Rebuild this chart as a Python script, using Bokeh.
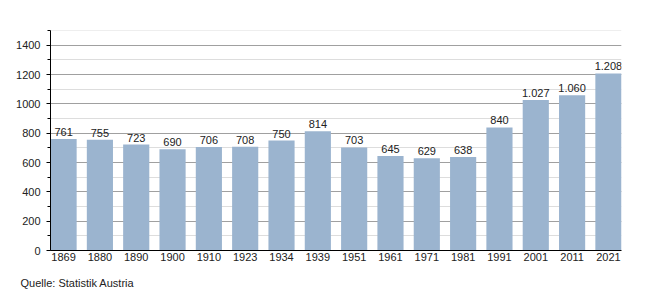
from bokeh.plotting import figure
from bokeh.models import ColumnDataSource, FixedTicker, Range1d, LabelSet, Title
from bokeh.embed import file_html
from bokeh.resources import INLINE
from bokeh.core.properties import value

years = ["1869", "1880", "1890", "1900", "1910", "1923", "1934", "1939",
         "1951", "1961", "1971", "1981", "1991", "2001", "2011", "2021"]
population = [761, 755, 723, 690, 706, 708, 750, 814,
              703, 645, 629, 638, 840, 1027, 1060, 1208]
y_ticks = [0, 200, 400, 600, 800, 1000, 1200, 1400]
source_note = "Quelle: Statistik Austria"


def fmt(v):
    return f"{v:,}".replace(",", ".")


xs = list(range(len(years)))
src = ColumnDataSource(dict(x=xs, y=population, lab=[fmt(v) for v in population]))

p = figure(width=650, height=300, output_backend="svg", toolbar_location=None,
           x_range=Range1d(-0.36, len(years) - 1 + 0.36), y_range=Range1d(0, 1501),
           min_border_left=50, min_border_right=29, min_border_top=30, min_border_bottom=0)
p.outline_line_color = None
p.background_fill_color = "white"
p.border_fill_color = "white"

p.vbar(x="x", top="y", width=0.72, source=src, fill_color="#9bb4cf", line_color=None)

labels = LabelSet(x="x", y="y", text="lab", source=src, text_align="center",
                  text_baseline="bottom", y_offset=3, text_font_size=value("11px"),
                  text_font=value("Liberation Sans"), text_color="#222222")
p.add_layout(labels)

# y axis
p.yaxis.ticker = FixedTicker(ticks=y_ticks, minor_ticks=list(range(0, 1501, 100)))
p.yaxis.major_tick_in = 0
p.yaxis.major_tick_out = 4
p.yaxis.minor_tick_in = 0
p.yaxis.minor_tick_out = 3
p.yaxis.axis_line_color = "black"
p.yaxis.major_tick_line_color = "black"
p.yaxis.minor_tick_line_color = "black"
p.yaxis.major_label_text_font = "Liberation Sans"
p.yaxis.major_label_text_font_size = "11px"
p.yaxis.major_label_text_color = "#222222"
p.yaxis.major_label_standoff = 6

# x axis
p.xaxis.ticker = FixedTicker(ticks=xs)
p.xaxis.major_label_overrides = {i: y for i, y in enumerate(years)}
p.xaxis.major_tick_line_color = None
p.xaxis.minor_tick_line_color = None
p.xaxis.major_tick_in = 0
p.xaxis.major_tick_out = 0
p.xaxis.minor_tick_in = 0
p.xaxis.minor_tick_out = 0
p.xaxis.axis_line_color = "black"
p.xaxis.major_label_text_font = "Liberation Sans"
p.xaxis.major_label_text_font_size = "11px"
p.xaxis.major_label_text_color = "#222222"
p.xaxis.major_label_standoff = 2

p.xgrid.grid_line_color = None
p.ygrid.grid_line_color = "#a0a0a0"
p.ygrid.minor_grid_line_color = "#dddddd"

note = Title(text=source_note, align="left", offset=-30, standoff=23,
             vertical_align="bottom",
             text_font="Liberation Sans", text_font_size="11px",
             text_font_style="normal", text_color="#222222")
p.add_layout(note, "below")

open("out.html", "w").write(file_html(p, INLINE))
